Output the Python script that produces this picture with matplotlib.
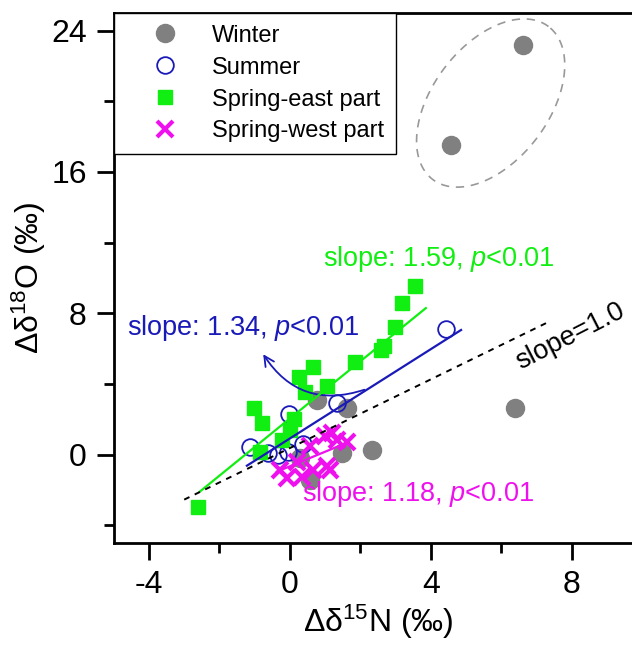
import matplotlib
matplotlib.use("Agg")
import matplotlib.pyplot as plt
import numpy as np

plt.rcParams['font.family'] = ['Liberation Sans', 'DejaVu Sans']
plt.rcParams['mathtext.fontset'] = 'custom'
plt.rcParams['mathtext.rm'] = 'Liberation Sans'
plt.rcParams['mathtext.it'] = 'Liberation Sans:italic'
plt.rcParams['axes.unicode_minus'] = False

# data (d15N, d18O differences, permil)
winter_x = [6.62, 4.57, 6.39, 0.77, 1.62, 2.33, 1.48, 0.28, 0.57]
winter_y = [23.2, 17.5, 2.66, 3.11, 2.66, 0.28, 0.11, -0.17, -1.41]

summer_x = [-1.14, -0.03, 1.34, 4.43, -0.63, -0.34, -0.06, 0.37]
summer_y = [0.45, 2.32, 2.94, 7.12, 0.11, 0.0, 0.17, 0.62]

east_x = [-2.61, -1.02, -0.80, -0.85, -0.23, 0.0, 0.11, 0.43, 0.26, 0.65,
          1.05, 1.85, 2.59, 2.67, 2.98, 3.18, 3.55]
east_y = [-2.94, 2.66, 1.81, 0.17, 0.85, 1.41, 2.03, 3.56, 4.41, 4.97,
          3.90, 5.25, 5.93, 6.16, 7.23, 8.59, 9.55]

west_x = [-0.28, -0.09, 0.20, 0.34, 0.57, 0.65, 1.05, 1.14, 0.99, 1.19, 1.34, 1.62]
west_y = [-0.85, -1.30, -0.40, -1.24, 0.51, -0.85, -0.62, -0.85, 1.07, 1.24, 0.85, 0.73]

# regression lines as drawn: (slope, intercept, x start, x end)
fit_east = (1.618, 2.05, -2.56, 3.86)
fit_summer = (1.263, 0.92, -1.22, 4.86)
fit_west = (0.824, -0.655, -0.37, 1.62)
ref_line = (0.972, 0.376, -3.0, 7.33)

GREEN = '#11ee11'
BLUE = '#1a1ab8'
MAGENTA = '#ee11ee'
GRAY = '#808080'

fig = plt.figure(figsize=(6.32, 6.45), dpi=100)
ax = fig.add_axes([0.18, 0.158, 0.836, 0.822])

ax.plot(winter_x, winter_y, 'o', ms=13, color=GRAY, mec=GRAY, label='Winter', zorder=2)
ax.plot(summer_x, summer_y, 'o', ms=12, mfc='none', mec=BLUE, mew=1.3, label='Summer', zorder=3)
ax.plot(east_x, east_y, 's', ms=10, color=GREEN, label='Spring-east part', zorder=3)
ax.plot(west_x, west_y, 'x', ms=12, mew=3, color=MAGENTA, label='Spring-west part', zorder=4)


def draw_fit(fit, **kw):
    s, b, x0, x1 = fit
    xs = np.array([x0, x1])
    ax.plot(xs, s * xs + b, zorder=5, **kw)


draw_fit(fit_east, color=GREEN, lw=1.6)
draw_fit(fit_summer, color=BLUE, lw=1.6)
draw_fit(fit_west, color=MAGENTA, lw=1.6)
draw_fit(ref_line, color='black', lw=1.4, ls=(0, (3, 3)))

# dashed ellipse round the two high winter points (drawn in pixel units)
t = np.linspace(0, 2 * np.pi, 200)
a, b, th = 96, 58, np.deg2rad(53)
ex = 5.7 + (a * np.cos(t) * np.cos(th) - b * np.sin(t) * np.sin(th)) / 35.2
ey = 19.9 + (a * np.cos(t) * np.sin(th) + b * np.sin(t) * np.cos(th)) / 17.7
ax.plot(ex, ey, color='#999999', lw=1.2, ls=(0, (5, 4)), zorder=1)

ax.text(0.94, 11.1, r'slope: 1.59, $\mathit{p}$<0.01', color=GREEN, fontsize=19.5, va='center')
ax.text(-4.63, 7.17, r'slope: 1.34, $\mathit{p}$<0.01', color=BLUE, fontsize=19.5, va='center')
ax.text(0.34, -2.2, r'slope: 1.18, $\mathit{p}$<0.01', color=MAGENTA, fontsize=19.5, va='center')
ax.text(7.95, 6.72, 'slope=1.0', color='black', fontsize=19.5, rotation=27,
        ha='center', va='center', rotation_mode='anchor')

ax.annotate('', xy=(-0.80, 5.82), xytext=(2.19, 3.73),
            arrowprops=dict(arrowstyle='->', color=BLUE, lw=1.3,
                            connectionstyle='arc3,rad=-0.4', mutation_scale=18))

ax.set_xlim(-5, 10)
ax.set_ylim(-5, 25)
ax.set_xticks([-4, 0, 4, 8])
ax.set_xticks([-2, 2, 6], minor=True)
ax.set_yticks([0, 8, 16, 24])
ax.set_yticks([-4, 4, 12, 20], minor=True)
ax.tick_params(which='major', direction='out', length=12.5, width=2, labelsize=23, pad=7)
ax.tick_params(which='minor', direction='out', length=7, width=2)
for sp in ax.spines.values():
    sp.set_linewidth(2)

ax.set_xlabel(r'Δδ$^{\mathregular{15}}$N (‰)', fontsize=23)
ax.set_ylabel(r'Δδ$^{\mathregular{18}}$O (‰)', fontsize=23)
ax.xaxis.set_label_coords(0.5, -0.112)
ax.yaxis.set_label_coords(-0.125, 0.5)

leg = ax.legend(loc='upper left', bbox_to_anchor=(0, 1), borderaxespad=0, fontsize=17,
                frameon=True, fancybox=False, edgecolor='black', framealpha=1,
                handlelength=3.3, handletextpad=0.35, borderpad=0.5, labelspacing=0.42,
                numpoints=1)
leg.get_frame().set_linewidth(1.0)

fig.savefig('out.png', dpi=100)
